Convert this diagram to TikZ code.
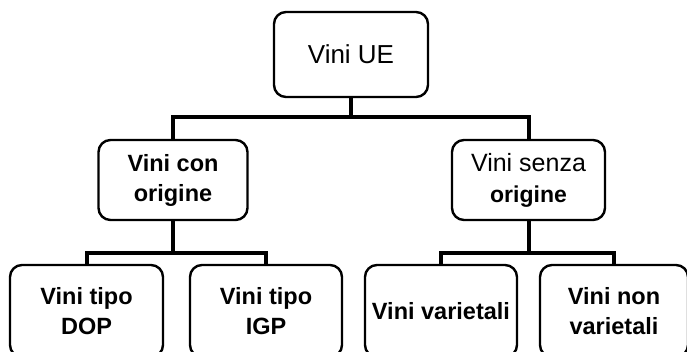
\documentclass[tikz,border=0pt]{standalone}
\usepackage{fontspec}
\setmainfont{Liberation Sans}
\begin{document}
\begin{tikzpicture}[x=1pt,y=-1pt,
  box/.style={draw=black, line width=2.4pt, rounded corners=12pt, align=center, inner sep=0pt},
  conn/.style={draw=black, line width=4pt},
  bt/.style={font=\fontsize{23.5}{30}\selectfont\bfseries},
  rt/.style={font=\fontsize{26}{30}\selectfont}]
\useasboundingbox (0,0) rectangle (687,351);
\clip (0,0) rectangle (687,351);
\node[box, rt, minimum width=154pt, minimum height=85pt] (ue) at (351,54.5) {Vini UE};
\node[box, bt, minimum width=149pt, minimum height=80pt] (con) at (173,180) {Vini con\\origine};
\node[box, minimum width=153pt, minimum height=80pt, font=\fontsize{23}{31}\selectfont] (senza) at (528.5,180) {\fontsize{25}{31}\selectfont Vini senza\\\bfseries origine};
\node[box, bt, minimum width=153pt, minimum height=92pt] (dop) at (86.5,311) {Vini tipo\\DOP};
\node[box, bt, minimum width=152pt, minimum height=92pt] (igp) at (266,311) {Vini tipo\\IGP};
\node[box, bt, minimum width=152pt, minimum height=92pt] (var) at (441,311) {Vini varietali};
\node[box, bt, minimum width=148pt, minimum height=92pt] (nonvar) at (614,311) {Vini non\\varietali};
\coordinate (j1) at (351,117);
\coordinate (j2) at (173,253);
\coordinate (j3) at (528.5,253);
\draw[conn] (ue.south) -- (j1);
\draw[conn] (con.north) |- (j1) -| (senza.north);
\draw[conn] (con.south) -- (j2);
\draw[conn] (dop.north) |- (j2) -| (igp.north);
\draw[conn] (senza.south) -- (j3);
\draw[conn] (var.north) |- (j3) -| (nonvar.north);
\end{tikzpicture}
\end{document}
